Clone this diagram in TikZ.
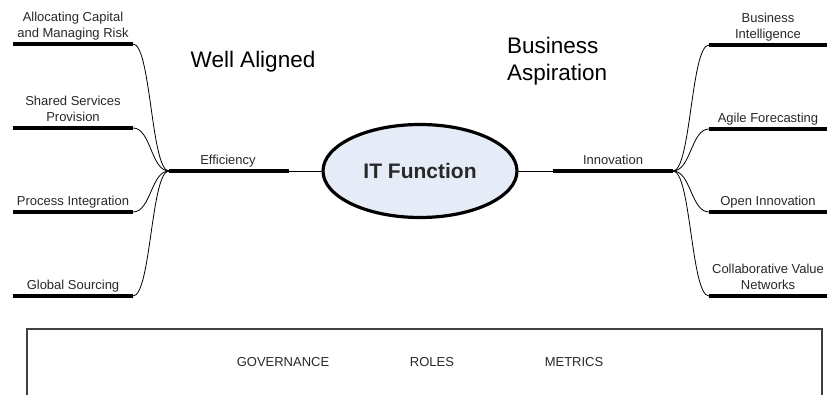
\documentclass[tikz,border=0pt]{standalone}
\usepackage{fontspec}
\setmainfont{Liberation Sans}
\usetikzlibrary{shapes.geometric}
\definecolor{itfill}{RGB}{230,236,247}
\definecolor{inkgray}{RGB}{40,40,40}
\tikzset{
  bar/.style={line width=4pt},
  twig/.style={line width=0.8pt},
  leaf/.style={align=center,inner sep=0pt,text=inkgray,font=\fontsize{13}{16}\selectfont,execute at end node=\strut},
  hub/.style={inner sep=0pt,text=inkgray,font=\fontsize{13}{15}\selectfont},
  title/.style={inner sep=0pt,align=left,font=\fontsize{22.5}{27}\selectfont},
  pillar/.style={inner sep=0pt,text=inkgray,font=\fontsize{13}{15}\selectfont}
}

\begin{document}
\begin{tikzpicture}[x=1pt,y=-1pt]
			%%%%% START %%%%%
			\useasboundingbox (0,0) rectangle (827,395);
			
			\node[ellipse, draw, line width=3.2pt, fill=itfill, minimum width=194pt, minimum height=93pt,
			      font=\fontsize{21}{25}\selectfont\bfseries, text=inkgray] (it) at (420,171) {IT Function};
			
			% left hub
			\coordinate (effL) at (169,171);
			\coordinate (effR) at (289,171);
			\draw[bar] (effL) -- (effR);
			\draw[twig] (effR) -- (it.west);
			\node[hub, anchor=base] (eff) at (228,165) {Efficiency};
			
			% right hub
			\coordinate (innL) at (553,171);
			\coordinate (innR) at (673,171);
			\draw[bar] (innL) -- (innR);
			\draw[twig] (it.east) -- (innL);
			\node[hub, anchor=base] (inn) at (613,165) {Innovation};
			
			% left leaves
			\foreach \y/\n/\t in {44/alloc/{Allocating Capital\\and Managing Risk},
			                      128/shared/{Shared Services\\Provision},
			                      212/process/{Process Integration},
			                      296/global/{Global Sourcing}}{
			  \coordinate (\n L) at (13,\y);
			  \coordinate (\n R) at (133,\y);
			  \draw[bar] (\n L) -- (\n R);
			  \draw[twig] (\n R) .. controls +(18,0) and +(-18,0) .. (effL);
			  \node[leaf, anchor=south] (\n) at (73,\y-1) {\t};
			}
			
			% right leaves
			\foreach \y/\n/\t in {45/intel/{Business\\Intelligence},
			                      129/agile/{Agile Forecasting},
			                      212/open/{Open Innovation},
			                      296/collab/{Collaborative Value\\Networks}}{
			  \coordinate (\n L) at (709,\y);
			  \coordinate (\n R) at (830,\y);
			  \draw[bar] (\n L) -- (\n R);
			  \draw[twig] (innR) .. controls +(18,0) and +(-18,0) .. (\n L);
			  \node[leaf, anchor=south] (\n) at (768,\y-1) {\t};
			}
			
			\node[title, anchor=base] (aligned) at (253,68) {Well Aligned};
			\node[title, anchor=north west] (aspire) at (507,37) {Business\\Aspiration};
			
			% bottom frame
			\draw[line width=2pt, black!75] (27,329) rectangle (822,410);
			\node[pillar] (gov) at (283,362) {GOVERNANCE};
			\node[pillar] (roles) at (432,362) {ROLES};
			\node[pillar] (metrics) at (574,362) {METRICS};
			%%%%% END %%%%%
\end{tikzpicture}
\end{document}
